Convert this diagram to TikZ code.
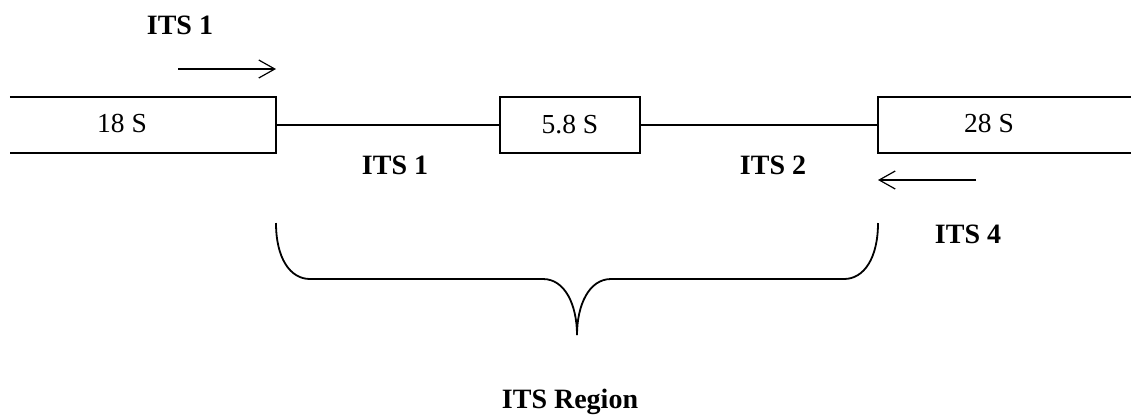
\documentclass[tikz,border=0pt]{standalone}
\usepackage{fontspec}
\setmainfont{Liberation Serif}
\usetikzlibrary{arrows.meta}
\begin{document}
\begin{tikzpicture}[x=1pt,y=-1pt,
  txt/.style={font=\fontsize{27.5}{32}\selectfont, inner sep=0pt},
  lbl/.style={font=\fontsize{28}{32}\selectfont\bfseries, inner sep=0pt},
  boxframe/.style={line width=1.8pt},
  thin/.style={line width=1.2pt},
  arr/.style={line width=1.2pt, -{Straight Barb[length=16pt,width=18pt,line width=1.2pt]}},
  gene/.style={minimum height=56pt, inner sep=0pt}
]
\useasboundingbox (0,0) rectangle (1131,416);
% boxes
\node[gene, minimum width=266pt] (b18) at (143,125) {};
\node[gene, minimum width=140pt, draw, boxframe] (b58) at (570,125) {};
\node[gene, minimum width=263pt] (b28) at (1009.5,125) {};
\draw[boxframe] (b18.north west) -- (b18.north east) -- (b18.south east) -- (b18.south west);
\draw[boxframe] (b28.north east) -- (b28.north west) -- (b28.south west) -- (b28.south east);
\node[txt] (t18) at (122,123) {18 S};
\node[txt] at (b58) {5.8 S};
\node[txt] (t28) at (989,123) {28 S};
% connectors
\draw[thin] (b18.east) -- (b58.west);
\draw[thin] (b58.east) -- (b28.west);
% labels
\node[lbl] (its1top) at (180,25) {ITS 1};
\node[lbl] (its1) at (395,165) {ITS 1};
\node[lbl] (its2) at (773,165) {ITS 2};
\node[lbl] (its4) at (968,234) {ITS 4};
\node[lbl] (region) at (570,402) {ITS Region};
% primer arrows
\coordinate (a1s) at (178,69);
\coordinate (a1e) at (276,69);
\draw[arr] (a1s) -- (a1e);
\coordinate (a4s) at (976,180);
\coordinate (a4e) at (878,180);
\draw[arr] (a4s) -- (a4e);
% brace
\coordinate (bl) at (276,223);
\coordinate (br) at (878,223);
\coordinate (tip) at (577,335);
\draw[line width=1.8pt] (bl) .. controls (276,258) and (290,279) .. (310,279) -- (543,279)
  .. controls (565,279) and (577,305) .. (tip);
\draw[line width=1.8pt] (br) .. controls (878,258) and (864,279) .. (844,279) -- (611,279)
  .. controls (589,279) and (577,305) .. (tip);
\end{tikzpicture}
\end{document}
